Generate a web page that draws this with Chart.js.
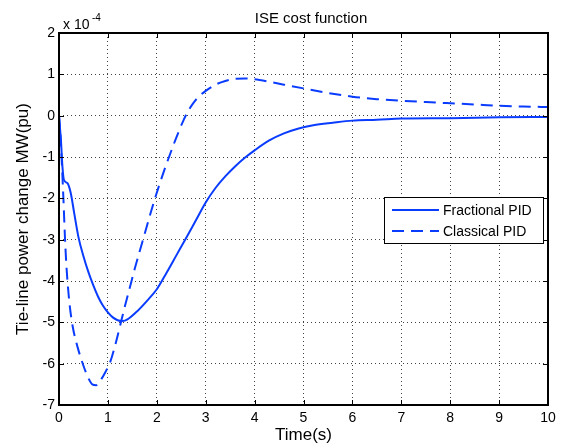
<!DOCTYPE html>
<html>
<head>
<meta charset="utf-8">
<script src="https://cdn.jsdelivr.net/npm/chart.js@4/dist/chart.umd.min.js"></script>
<style>
  html, body { margin: 0; padding: 0; background: #fff; }
  #wrap { width: 564px; height: 446px; }
</style>
</head>
<body>
<div id="wrap"><canvas id="ise-chart" width="564" height="446"></canvas></div>
<script>
// values are in units of 1e-4 pu (axis shows "x 10^-4")
const timeFrac = [0, 0.02, 0.04, 0.07, 0.1, 0.17, 0.24, 0.31, 0.4, 0.5, 0.6, 0.7, 0.8, 0.9, 1.0, 1.1, 1.2, 1.3, 1.4, 1.6, 1.8, 2.0, 2.2, 2.4, 2.6, 2.8, 3.0, 3.2, 3.4, 3.6, 3.8, 4.0, 4.3, 4.6, 4.9, 5.2, 5.6, 6.0, 6.5, 7.0, 8.0, 9.0, 10.0]
const fracPID = [0, -0.3, -0.6, -1.23, -1.55, -1.63, -1.87, -2.35, -2.95, -3.4, -3.78, -4.1, -4.38, -4.6, -4.76, -4.88, -4.95, -4.97, -4.93, -4.73, -4.48, -4.2, -3.8, -3.38, -2.96, -2.53, -2.1, -1.75, -1.47, -1.23, -1.02, -0.84, -0.6, -0.43, -0.31, -0.23, -0.17, -0.12, -0.1, -0.07, -0.06, -0.04, -0.03]

const timeClassic = [0, 0.03, 0.06, 0.09, 0.12, 0.15, 0.18, 0.22, 0.28, 0.38, 0.5, 0.6, 0.68, 0.76, 0.85, 0.95, 1.05, 1.15, 1.25, 1.35, 1.45, 1.55, 1.65, 1.75, 1.85, 1.95, 2.05, 2.15, 2.25, 2.35, 2.45, 2.55, 2.65, 2.75, 2.85, 3.0, 3.2, 3.4, 3.6, 3.8, 4.0, 4.3, 4.6, 5.0, 5.5, 6.0, 6.5, 7.0, 7.5, 8.0, 8.5, 9.0, 9.5, 10.0]
const classicPID = [0, -0.5, -1.2, -2.0, -2.9, -3.6, -4.1, -4.6, -5.1, -5.6, -6.05, -6.35, -6.5, -6.52, -6.4, -6.2, -5.95, -5.55, -5.08, -4.6, -4.15, -3.7, -3.28, -2.87, -2.45, -2.05, -1.68, -1.33, -1.0, -0.68, -0.38, -0.1, 0.13, 0.31, 0.45, 0.6, 0.75, 0.84, 0.89, 0.9, 0.88, 0.82, 0.75, 0.66, 0.55, 0.46, 0.4, 0.36, 0.33, 0.3, 0.27, 0.24, 0.22, 0.21]

const seriesNames = ['Fractional PID', 'Classical PID']
const xTicks = [0, 10]
const yTicks = [-7, 2]

const FONT = 'Liberation Sans, Arial, sans-serif'
const BLUE = '#0a3cff'

function toPoints(xs, ys) {
  return xs.map((x, i) => ({ x, y: ys[i] }))
}

// matlab style box, inner ticks, title, exponent and legend
const matlabFrame = {
  id: 'matlabFrame',
  afterDraw(chart) {
    const { ctx, chartArea: a, scales } = chart
    ctx.save()
    ctx.strokeStyle = '#000'
    ctx.lineWidth = 1
    ctx.setLineDash([])
    ctx.beginPath()
    scales.x.ticks.forEach(t => {
      const px = Math.round(scales.x.getPixelForValue(t.value)) + 0.5
      ctx.moveTo(px, a.bottom); ctx.lineTo(px, a.bottom - 5)
      ctx.moveTo(px, a.top); ctx.lineTo(px, a.top + 5)
    })
    scales.y.ticks.forEach(t => {
      const py = Math.round(scales.y.getPixelForValue(t.value)) + 0.5
      ctx.moveTo(a.left, py); ctx.lineTo(a.left + 5, py)
      ctx.moveTo(a.right, py); ctx.lineTo(a.right - 5, py)
    })
    ctx.stroke()
    ctx.lineWidth = 2
    ctx.strokeRect(a.left, a.top, a.right - a.left, a.bottom - a.top)

    // title
    ctx.fillStyle = '#000'
    ctx.font = '15px ' + FONT
    ctx.textAlign = 'center'
    ctx.textBaseline = 'middle'
    ctx.fillText('ISE cost function', 311, 19)

    // exponent label
    ctx.textAlign = 'left'
    ctx.font = '14px ' + FONT
    ctx.fillText('x 10', 63, 25)
    ctx.font = '10px ' + FONT
    ctx.fillText('-4', 92, 18)

    // legend
    const lx = 384, ly = 197, lw = 159, lh = 46
    ctx.fillStyle = '#fff'
    ctx.fillRect(lx, ly, lw, lh)
    ctx.lineWidth = 1
    ctx.strokeStyle = '#000'
    ctx.strokeRect(lx + 0.5, ly + 0.5, lw, lh)
    chart.data.datasets.forEach((ds, i) => {
      const y = ly + 13 + i * 21
      ctx.strokeStyle = ds.borderColor
      ctx.lineWidth = ds.borderWidth
      ctx.setLineDash(ds.borderDash || [])
      ctx.beginPath()
      ctx.moveTo(lx + 8, y); ctx.lineTo(lx + 55, y)
      ctx.stroke()
      ctx.setLineDash([])
      ctx.fillStyle = '#000'
      ctx.font = '14px ' + FONT
      ctx.textAlign = 'left'
      ctx.textBaseline = 'middle'
      ctx.fillText(ds.label, lx + 59, y + 1)
    })
    ctx.restore()
  }
}

const ctx = document.getElementById('ise-chart').getContext('2d')
new Chart(ctx, {
  type: 'line',
  data: {
    datasets: [
      {
        label: seriesNames[0],
        data: toPoints(timeFrac, fracPID),
        borderColor: BLUE,
        borderWidth: 2,
        pointRadius: 0,
        cubicInterpolationMode: 'monotone'
      },
      {
        label: seriesNames[1],
        data: toPoints(timeClassic, classicPID),
        borderColor: BLUE,
        borderWidth: 2,
        borderDash: [12, 7],
        pointRadius: 0,
        cubicInterpolationMode: 'monotone'
      }
    ]
  },
  options: {
    responsive: false,
    animation: false,
    layout: { padding: { top: 33, right: 16, left: 0, bottom: 0 } },
    plugins: { legend: { display: false }, tooltip: { enabled: false } },
    scales: {
      x: {
        type: 'linear',
        min: xTicks[0],
        max: xTicks[1],
        afterFit: s => { s.height = 41 },
        ticks: { stepSize: 1, color: '#000', padding: 5, maxRotation: 0, font: { family: FONT, size: 14 } },
        grid: { color: '#444', lineWidth: 1, drawTicks: false },
        border: { display: false, dash: [1, 3] },
        title: { display: true, text: 'Time(s)', color: '#000', padding: { top: 0, bottom: 0 }, font: { family: FONT, size: 17, lineHeight: 1.2 } }
      },
      y: {
        min: yTicks[0],
        max: yTicks[1],
        afterFit: s => { s.width = 59 },
        ticks: { stepSize: 1, color: '#000', padding: 4, font: { family: FONT, size: 14 } },
        grid: { color: '#444', lineWidth: 1, drawTicks: false },
        border: { display: false, dash: [1, 3] },
        title: { display: true, text: 'Tie-line power change MW(pu)', color: '#000', padding: { top: 13, bottom: 0 }, font: { family: FONT, size: 17, lineHeight: 1.2 } }
      }
    }
  },
  plugins: [matlabFrame]
})
</script>
</body>
</html>
